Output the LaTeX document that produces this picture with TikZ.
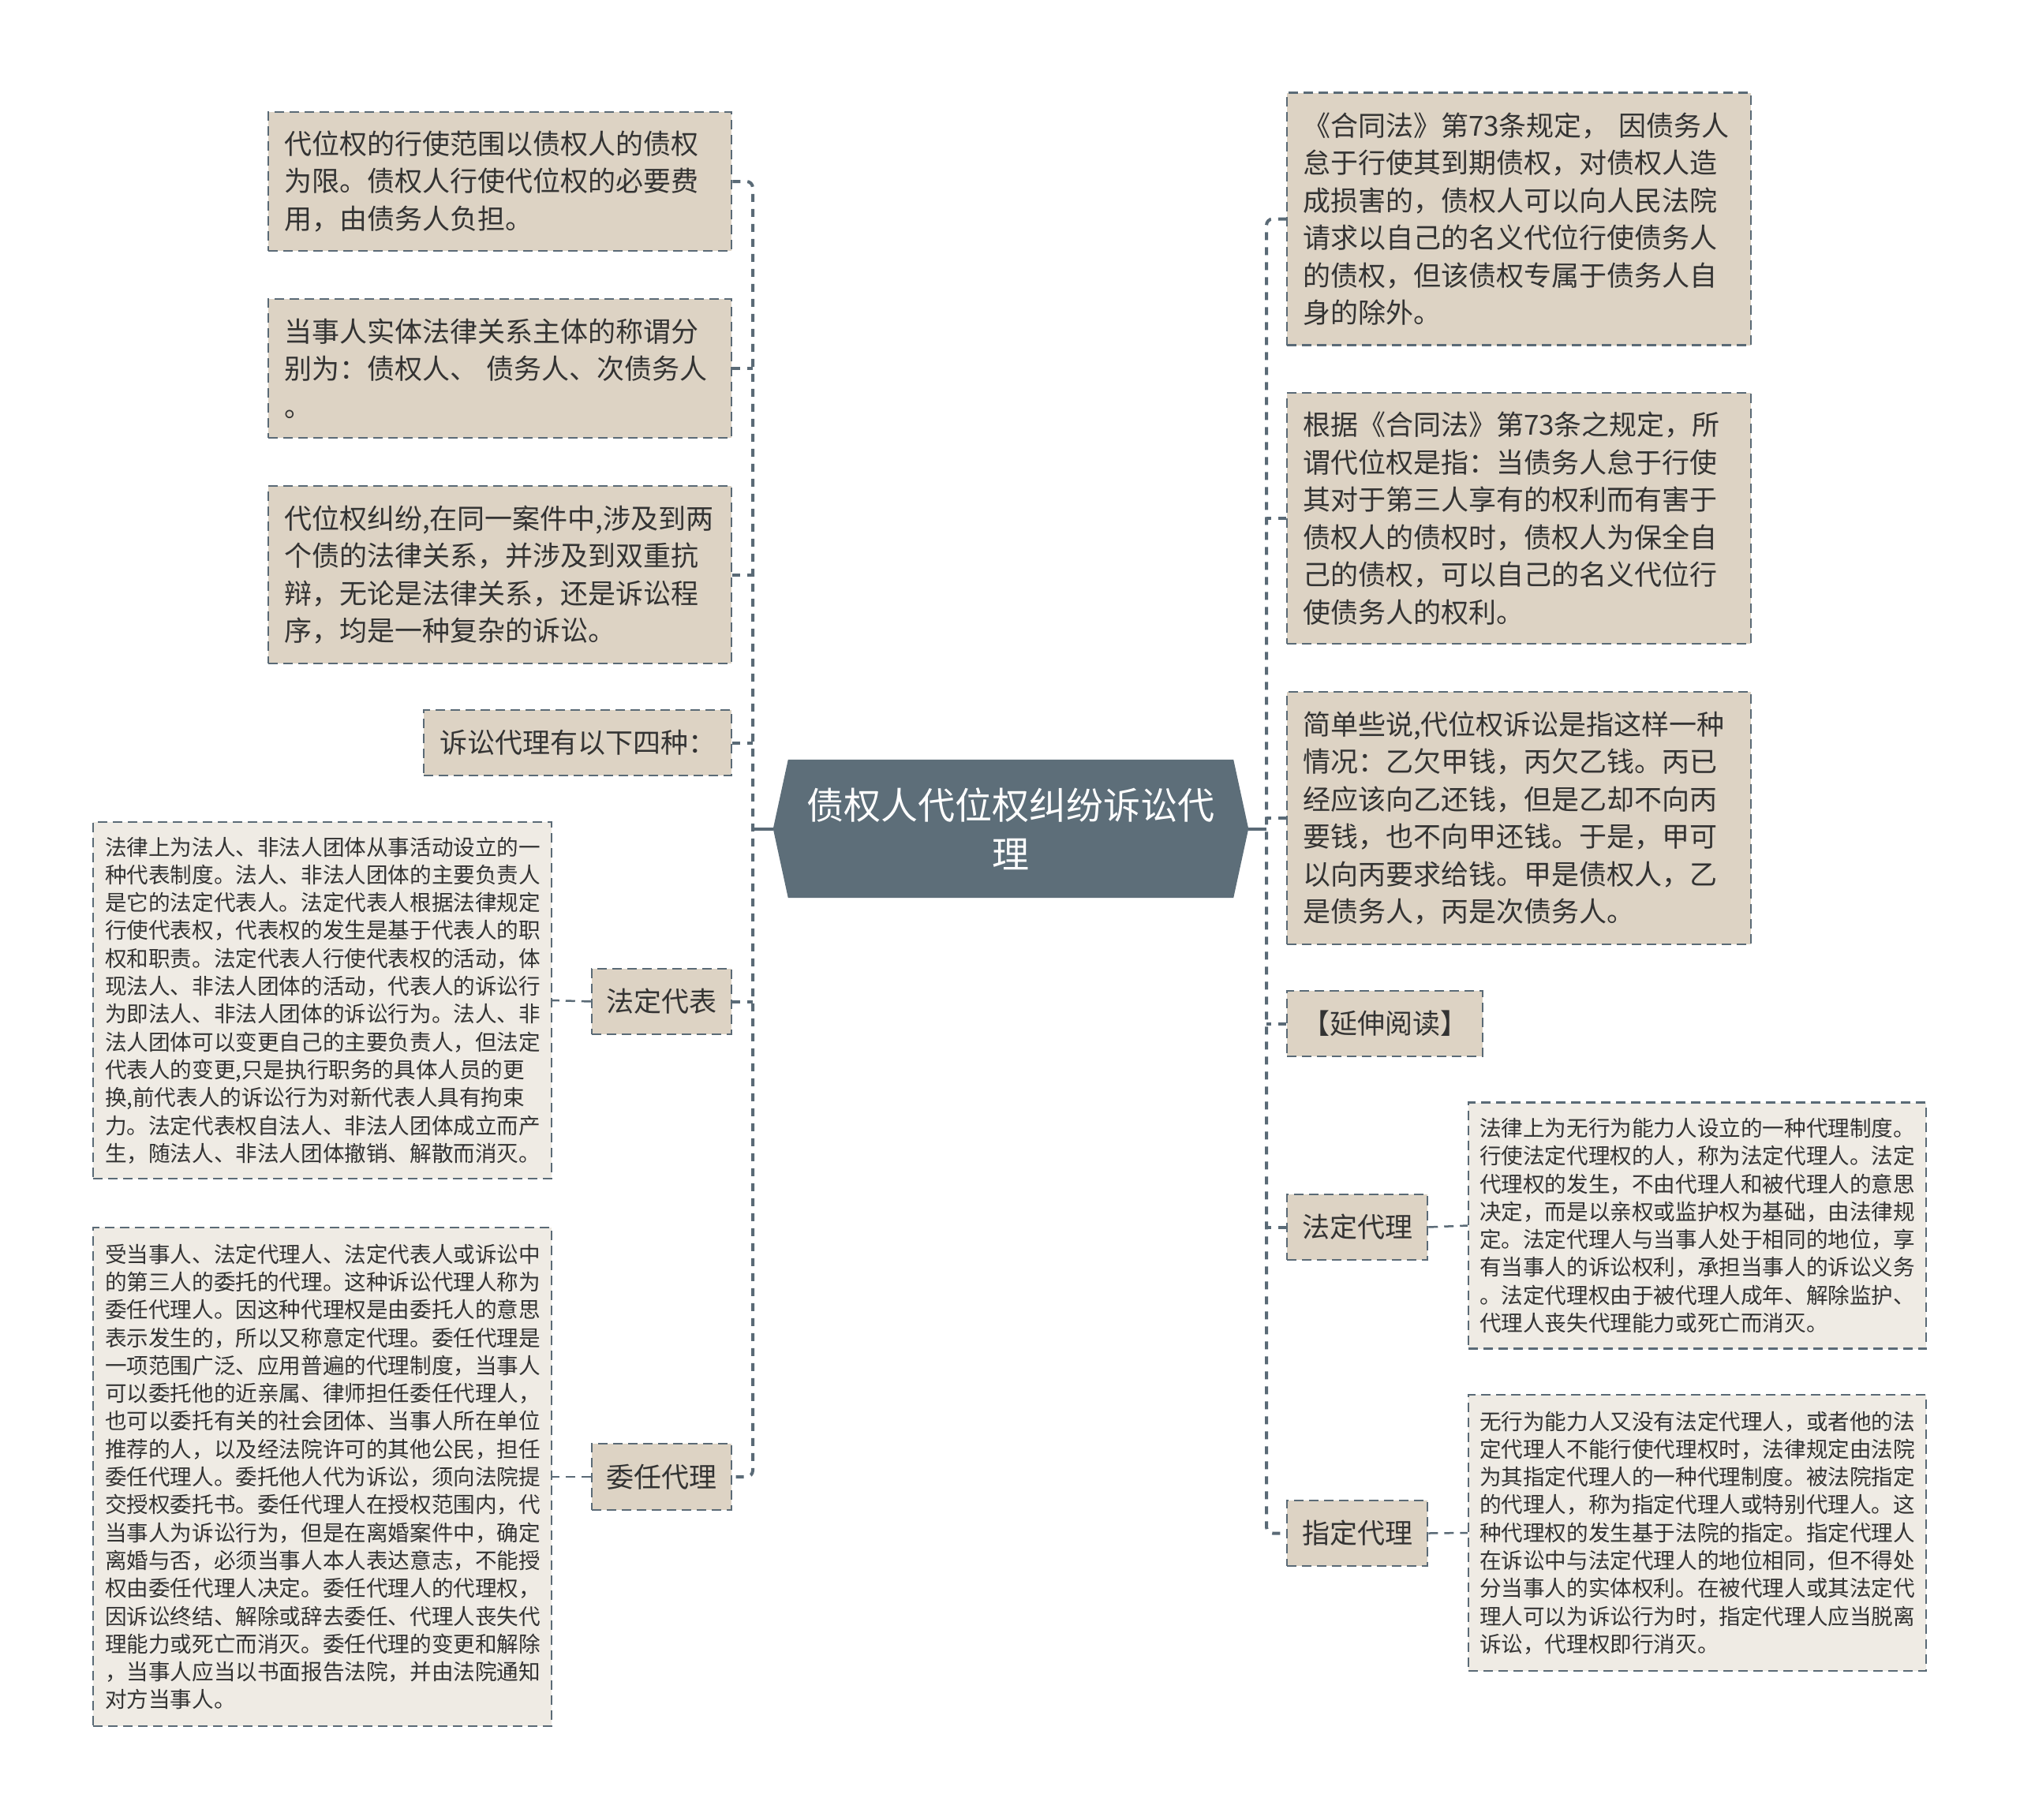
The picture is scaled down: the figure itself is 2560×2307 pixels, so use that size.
\documentclass[tikz,border=0pt]{standalone}
\usepackage{fontspec}
\setmainfont{Noto Sans CJK SC}
\usetikzlibrary{backgrounds}
\definecolor{bfill}{HTML}{DDD3C4}
\definecolor{dfill}{HTML}{EFEBE4}
\definecolor{bcol}{HTML}{5A6A76}
\definecolor{cfill}{HTML}{5D6E79}
\definecolor{tcol}{HTML}{333333}
\tikzset{
  box/.style={draw=bcol, fill=bfill, line width=2.5pt, dash pattern=on 12pt off 7pt,
    inner xsep=20pt, inner ysep=0pt, font=\fontsize{35}{47.5}\selectfont, text=tcol, align=left},
  lbl/.style={draw=bcol, fill=bfill, line width=2.5pt, dash pattern=on 12pt off 7pt,
    inner xsep=0pt, inner ysep=0pt, font=\fontsize{35}{47.5}\selectfont, text=tcol, align=center},
  dbox/.style={draw=bcol, fill=dfill, line width=2.2pt, dash pattern=on 12pt off 7pt,
    inner xsep=15pt, inner ysep=0pt, font=\fontsize{27.6}{35.3}\selectfont, text=tcol, align=left},
  trunk/.style={draw=bcol, line width=4pt, dash pattern=on 10pt off 9pt, rounded corners=8pt},
  hub/.style={draw=bcol, line width=4pt},
  link/.style={draw=bcol, line width=2.5pt, dash pattern=on 12pt off 8pt}
}
\begin{document}
\begin{tikzpicture}[x=1pt,y=-1pt]
\useasboundingbox (0,0) rectangle (2560,2307);

% centre
\node[minimum width=602pt, minimum height=175pt, inner sep=0pt, text=white, align=center,
  font=\fontsize{47}{62}\selectfont] (C) at (1281,1050.5) {债权人代位权纠纷诉讼代\\理};
\begin{scope}[on background layer]
\fill[white] (0,0) rectangle (2560,2307);
\fill[cfill] ([xshift=19pt]C.north west) -- ([xshift=-19pt]C.north east) -- (C.east)
  -- ([xshift=-19pt]C.south east) -- ([xshift=19pt]C.south west) -- (C.west) -- cycle;
\end{scope}

% left side
\node[box, text width=547pt, minimum height=176pt] (L1) at (633.5,230)
  {代位权的行使范围以债权人的债权\\为限。债权人行使代位权的必要费\\用，由债务人负担。};
\node[box, text width=547pt, minimum height=176pt] (L2) at (633.5,467)
  {当事人实体法律关系主体的称谓分\\别为：债权人、 债务人、次债务人\\。};
\node[box, text width=547pt, minimum height=225pt] (L3) at (633.5,728.5)
  {代位权纠纷,在同一案件中,涉及到两\\个债的法律关系，并涉及到双重抗\\辩，无论是法律关系，还是诉讼程\\序，均是一种复杂的诉讼。};
\node[lbl, minimum width=390pt, minimum height=83pt] (L4) at (732,941.5) {诉讼代理有以下四种：};
\node[lbl, minimum width=177pt, minimum height=83pt] (L5) at (838.5,1269.5) {法定代表};
\node[lbl, minimum width=177pt, minimum height=84pt] (L6) at (838.5,1872) {委任代理};
\node[dbox, text width=551pt, minimum height=452pt] (L5d) at (408.5,1268)
  {法律上为法人、非法人团体从事活动设立的一\\种代表制度。法人、非法人团体的主要负责人\\是它的法定代表人。法定代表人根据法律规定\\行使代表权，代表权的发生是基于代表人的职\\权和职责。法定代表人行使代表权的活动，体\\现法人、非法人团体的活动，代表人的诉讼行\\为即法人、非法人团体的诉讼行为。法人、非\\法人团体可以变更自己的主要负责人，但法定\\代表人的变更,只是执行职务的具体人员的更\\换,前代表人的诉讼行为对新代表人具有拘束\\力。法定代表权自法人、非法人团体成立而产\\生，随法人、非法人团体撤销、解散而消灭。};
\node[dbox, text width=551pt, minimum height=632pt] (L6d) at (408.5,1872)
  {受当事人、法定代理人、法定代表人或诉讼中\\的第三人的委托的代理。这种诉讼代理人称为\\委任代理人。因这种代理权是由委托人的意思\\表示发生的，所以又称意定代理。委任代理是\\一项范围广泛、应用普遍的代理制度，当事人\\可以委托他的近亲属、律师担任委任代理人，\\也可以委托有关的社会团体、当事人所在单位\\推荐的人，以及经法院许可的其他公民，担任\\委任代理人。委托他人代为诉讼，须向法院提\\交授权委托书。委任代理人在授权范围内，代\\当事人为诉讼行为，但是在离婚案件中，确定\\离婚与否，必须当事人本人表达意志，不能授\\权由委任代理人决定。委任代理人的代理权，\\因诉讼终结、解除或辞去委任、代理人丧失代\\理能力或死亡而消灭。委任代理的变更和解除\\，当事人应当以书面报告法院，并由法院通知\\对方当事人。};

% right side
\node[box, text width=548pt, minimum height=320pt] (R1) at (1925,277.5)
  {《合同法》第73条规定， 因债务人\\怠于行使其到期债权，对债权人造\\成损害的，债权人可以向人民法院\\请求以自己的名义代位行使债务人\\的债权，但该债权专属于债务人自\\身的除外。};
\node[box, text width=548pt, minimum height=318pt] (R2) at (1925,657)
  {根据《合同法》第73条之规定，所\\谓代位权是指：当债务人怠于行使\\其对于第三人享有的权利而有害于\\债权人的债权时，债权人为保全自\\己的债权，可以自己的名义代位行\\使债务人的权利。};
\node[box, text width=548pt, minimum height=320pt] (R3) at (1925,1037)
  {简单些说,代位权诉讼是指这样一种\\情况：乙欠甲钱，丙欠乙钱。丙已\\经应该向乙还钱，但是乙却不向丙\\要钱，也不向甲还钱。于是，甲可\\以向丙要求给钱。甲是债权人，乙\\是债务人，丙是次债务人。};
\node[lbl, minimum width=248pt, minimum height=83pt] (R4) at (1755,1297.5) {【延伸阅读】};
\node[lbl, minimum width=178pt, minimum height=83pt] (R5) at (1720,1555.5) {法定代理};
\node[lbl, minimum width=178pt, minimum height=83pt] (R6) at (1720,1943.5) {指定代理};
\node[dbox, text width=552pt, minimum height=312pt, inner xsep=14pt] (R5d) at (2151,1553.5)
  {法律上为无行为能力人设立的一种代理制度。\\行使法定代理权的人，称为法定代理人。法定\\代理权的发生，不由代理人和被代理人的意思\\决定，而是以亲权或监护权为基础，由法律规\\定。法定代理人与当事人处于相同的地位，享\\有当事人的诉讼权利，承担当事人的诉讼义务\\。法定代理权由于被代理人成年、解除监护、\\代理人丧失代理能力或死亡而消灭。};
\node[dbox, text width=552pt, minimum height=350pt, inner xsep=14pt] (R6d) at (2151,1943)
  {无行为能力人又没有法定代理人，或者他的法\\定代理人不能行使代理权时，法律规定由法院\\为其指定代理人的一种代理制度。被法院指定\\的代理人，称为指定代理人或特别代理人。这\\种代理权的发生基于法院的指定。指定代理人\\在诉讼中与法定代理人的地位相同，但不得处\\分当事人的实体权利。在被代理人或其法定代\\理人可以为诉讼行为时，指定代理人应当脱离\\诉讼，代理权即行消灭。};

% connectors
\coordinate (TL) at (954,1050.5);
\coordinate (TR) at (1605,1050.5);
\draw[trunk] (L1.east) -- (L1.east -| TL) -- (L6.east -| TL) -- (L6.east);
\foreach \n in {L2,L3,L4,L5} \draw[trunk] (\n.east) -- (\n.east -| TL);
\draw[hub] (C.west) -- (TL);
\draw[trunk] (R1.west) -- (R1.west -| TR) -- (R6.west -| TR) -- (R6.west);
\foreach \n in {R2,R3,R4,R5} \draw[trunk] (\n.west) -- (\n.west -| TR);
\draw[hub] (C.east) -- (TR);
\draw[link] (L5.west) -- (L5d.east);
\draw[link] (L6.west) -- (L6d.east);
\draw[link] (R5.east) -- (R5d.west);
\draw[link] (R6.east) -- (R6d.west);
\end{tikzpicture}
\end{document}
